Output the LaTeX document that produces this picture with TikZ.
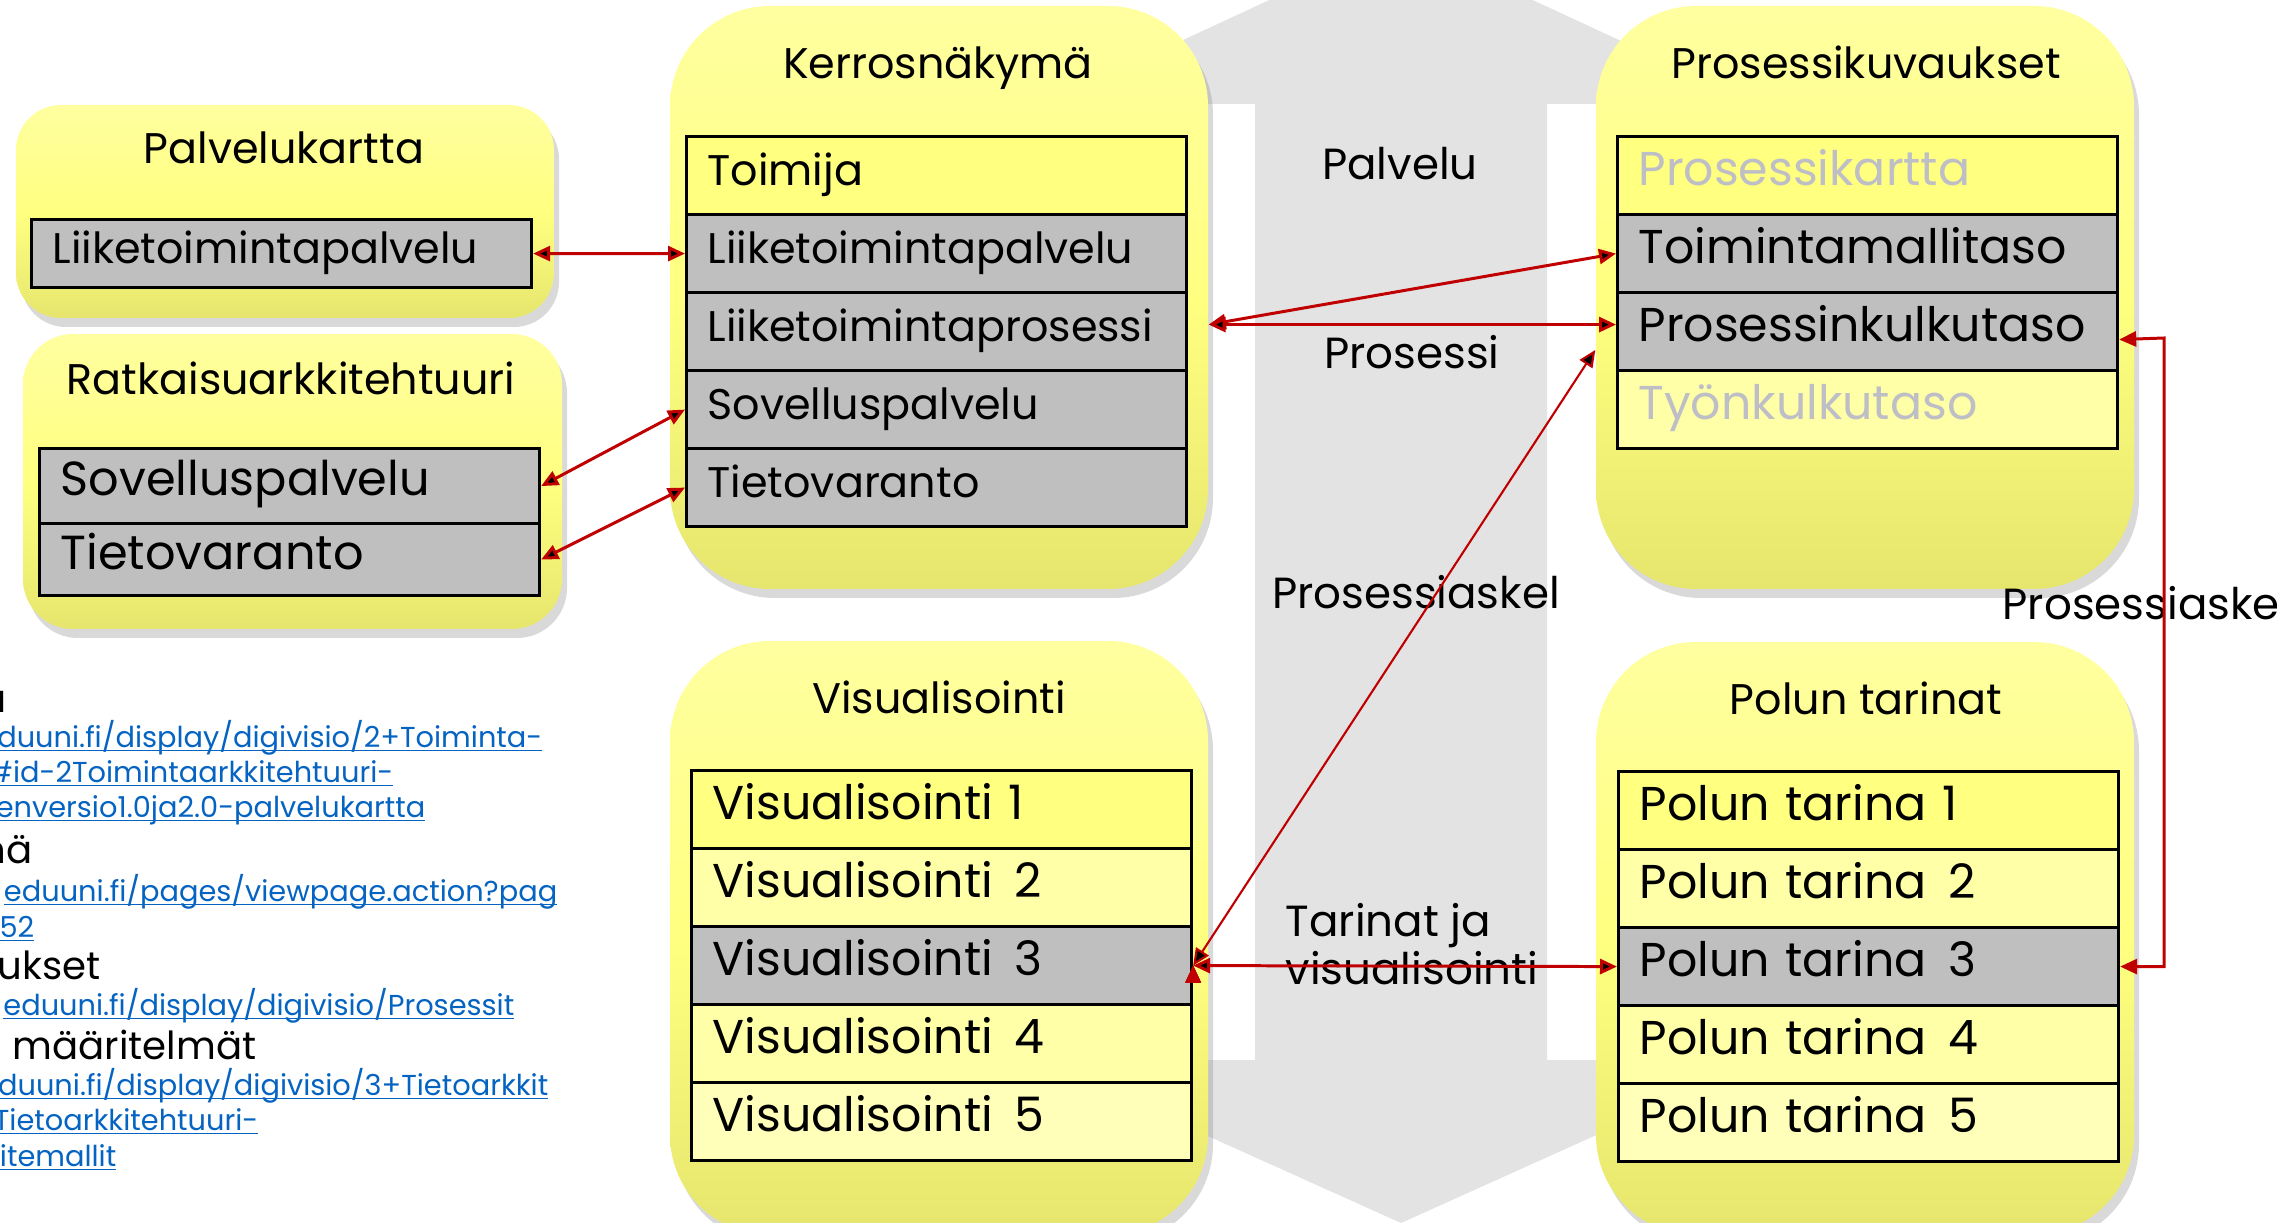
\documentclass[tikz,border=0pt]{standalone}
\usepackage{fontspec}
\setmainfont{Poppins}
\usepackage{tikz}
\usetikzlibrary{arrows.meta,shadows}

\definecolor{bandgrey}{RGB}{227,227,227}
\definecolor{boxtop}{RGB}{255,255,160}
\definecolor{boxmid}{RGB}{255,255,128}
\definecolor{boxbot}{RGB}{230,230,110}
\definecolor{rowyellow}{RGB}{255,255,128}
\definecolor{rowlight}{RGB}{255,255,168}
\definecolor{rowpale}{RGB}{255,255,185}
\definecolor{rowgrey}{RGB}{191,191,191}
\definecolor{fadedtext}{RGB}{190,190,198}
\definecolor{linkblue}{RGB}{5,99,193}
\definecolor{arrowred}{RGB}{192,0,0}

\newcommand{\ulink}[1]{\setbox0\hbox{#1}\rlap{\rule[-0.15em]{\wd0}{0.06em}}\box0}
\newcommand{\gap}{~\hspace{0.13em}}

\tikzset{
  panel/.style={shape=rectangle,rounded corners=10mm,top color=boxtop,bottom color=boxbot,middle color=boxmid,
    drop shadow={shadow xshift=0.5mm,shadow yshift=-0.9mm,opacity=0.3}},
  row/.style={shape=rectangle,draw,line width=0.9pt,anchor=north west,inner xsep=2.1mm,inner ysep=0pt,
    text width=45.8mm,text height=0.7em,text depth=0.15em},
  rowsmall/.style={font=\fontsize{12.2}{14}\selectfont},
  rowmid/.style={font=\fontsize{13.6}{16}\selectfont},
  rowbig/.style={font=\fontsize{13.5}{16}\selectfont},
  title/.style={inner sep=0pt,text height=0.7em,text depth=0pt,font=\fontsize{12.2}{14}\selectfont},
  linklabel/.style={inner sep=0pt,text height=0.7em,text depth=0pt,font=\fontsize{12.4}{13.7}\selectfont},
  link/.style={draw=arrowred,line width=0.85pt,>={Triangle[length=1.7mm,width=1.5mm]}},
  note/.style={anchor=base east,inner sep=0pt,font=\fontsize{11}{13}\selectfont},
  url/.style={anchor=base east,inner sep=0pt,text=linkblue,font=\fontsize{8.2}{10}\selectfont}
}

\begin{document}
\begin{tikzpicture}[x=0.1mm,y=-0.1mm]
\useasboundingbox (0,0) rectangle (2277,1223);
\clip (0,0) rectangle (2277,1223);

\fill[bandgrey] (1401,-61) -- (1757,104) -- (1547,104) -- (1547,1060) -- (1763,1060) -- (1401,1223)
  -- (1039,1060) -- (1255,1060) -- (1255,104) -- (1045,104) -- cycle;

\node(pp) at (285,211.5)[panel,rounded corners=4.5mm,minimum width=53.8mm,minimum height=21.3mm]{};
\node(rs) at (292.5,481.5)[panel,rounded corners=5mm,minimum width=53.9mm,minimum height=29.5mm]{};
\node(kn) at (939,297.5)[panel,minimum width=53.8mm,minimum height=58.3mm]{};
\node(pk) at (1865,297.5)[panel,minimum width=53.8mm,minimum height=58.3mm]{};
\node(vs) at (939,938)[panel,minimum width=53.8mm,minimum height=59.4mm]{};
\node(pt) at (1865,938.5)[panel,minimum width=53.8mm,minimum height=59.3mm]{};

\node(pp-title) at (284,151)[title]{Palvelukartta};
\node(rs-title) at (291,382)[title]{Ratkaisuarkkitehtuuri};
\node(kn-title) at (938,66)[title]{Kerrosnäkymä};
\node(pk-title) at (1866,66)[title]{Prosessikuvaukset};
\node(vs-title) at (939,701)[title]{Visualisointi};
\node(pt-title) at (1866,702)[title]{Polun tarinat};

\node(pp1) at (30,218)[row,rowsmall,fill=rowgrey,minimum height=6.8mm]{Liiketoimintapalvelu};

\node(rs1) at (38,447)[row,rowmid,fill=rowgrey,minimum height=7.5mm]{Sovelluspalvelu};
\node(rs2) at (38,522)[row,rowmid,fill=rowgrey,minimum height=7.2mm]{Tietovaranto};

\node(kn1) at (685,135)[row,rowsmall,fill=rowyellow,minimum height=7.8mm]{Toimija};
\node(kn2) at (685,213)[row,rowsmall,fill=rowgrey,minimum height=7.8mm]{Liiketoimintapalvelu};
\node(kn3) at (685,291)[row,rowsmall,fill=rowgrey,minimum height=7.8mm]{Liiketoimintaprosessi};
\node(kn4) at (685,369)[row,rowsmall,fill=rowgrey,minimum height=7.8mm]{Sovelluspalvelu};
\node(kn5) at (685,447)[row,rowsmall,fill=rowgrey,minimum height=7.8mm]{Tietovaranto};

\node(pk1) at (1616,135)[row,rowbig,fill=rowyellow,text=fadedtext,minimum height=7.8mm]{Prosessikartta};
\node(pk2) at (1616,213)[row,rowbig,fill=rowgrey,minimum height=7.8mm]{Toimintamallitaso};
\node(pk3) at (1616,291)[row,rowbig,fill=rowgrey,minimum height=7.8mm]{Prosessinkulkutaso};
\node(pk4) at (1616,369)[row,rowbig,fill=rowlight,text=fadedtext,minimum height=7.8mm]{Työnkulkutaso};

\node(vs1) at (690,769)[row,rowbig,fill=rowyellow,minimum height=7.8mm]{Visualisointi 1};
\node(vs2) at (690,847)[row,rowbig,fill=rowlight,minimum height=7.8mm]{Visualisointi\gap 2};
\node(vs3) at (690,925)[row,rowbig,fill=rowgrey,minimum height=7.8mm]{Visualisointi\gap 3};
\node(vs4) at (690,1003)[row,rowbig,fill=rowlight,minimum height=7.8mm]{Visualisointi\gap 4};
\node(vs5) at (690,1081)[row,rowbig,fill=rowpale,minimum height=7.8mm]{Visualisointi\gap 5};

\node(pt1) at (1617,770)[row,rowbig,fill=rowyellow,minimum height=7.8mm]{Polun tarina 1};
\node(pt2) at (1617,848)[row,rowbig,fill=rowlight,minimum height=7.8mm]{Polun tarina\gap 2};
\node(pt3) at (1617,926)[row,rowbig,fill=rowgrey,minimum height=7.8mm]{Polun tarina\gap 3};
\node(pt4) at (1617,1004)[row,rowbig,fill=rowlight,minimum height=7.8mm]{Polun tarina\gap 4};
\node(pt5) at (1617,1082)[row,rowbig,fill=rowpale,minimum height=7.8mm]{Polun tarina\gap 5};

\node(palvelu) at (1400,167)[linklabel]{Palvelu};
\node(prosessi) at (1412,356)[linklabel]{Prosessi};
\node(askel) at (1416,596)[linklabel]{Prosessiaskel};
\node(tarinat) at (1285,944)[linklabel,text height=,anchor=west,align=left]{Tarinat ja\\visualisointi};
\node(askel-r) at (2002,607)[linklabel,anchor=west]{Prosessiaske};

\node(n1) at (7,712)[note]{a};
\node(u1) at (543,747)[url]{\ulink{duuni.fi/display/digivisio/2+Toiminta-}};
\node(u2) at (394,782)[url]{\ulink{\#id-2Toimintaarkkitehtuuri-}};
\node(u3) at (426,817)[url]{\ulink{enversio1.0ja2.0-palvelukartta}};
\node(n2) at (33,863)[note]{nä};
\node(u4) at (558,901)[url]{\ulink{eduuni.fi/pages/viewpage.action?pag}};
\node(u5) at (35,937)[url]{\ulink{52}};
\node(n3) at (101,979)[note]{ukset};
\node(u6) at (515,1015)[url]{\ulink{eduuni.fi/display/digivisio/Prosessit}};
\node(n4) at (257,1059)[note]{a määritelmät};
\node(u7) at (549,1095)[url]{\ulink{duuni.fi/display/digivisio/3+Tietoarkkit}};
\node(u8) at (259,1130)[url]{\ulink{Tietoarkkitehtuuri-}};
\node(u9) at (117,1166)[url]{\ulink{itemallit}};

\coordinate(pk3-in) at ([yshift=0.7mm]pk3.west);
\coordinate(pk3-out) at ([yshift=-0.8mm]pk3.east);
\coordinate(rbend) at (2164,338);

\path [link,<->]
  (pp1)           edge  (kn2)
  (rs1.east)      edge  (kn4.west)
  (rs2.east)      edge  (kn5.west)
  (kn.east |- pk3-in) edge (pk2.west)
  (kn.east |- pk3-in) edge (pk3-in)
  (vs3.east)      edge  (pt3.west);
\path [link,<->,line width=0.6pt]
  (vs3.east)      edge  (pk.191);
\draw [link,<->] (pk3-out) -- (rbend) |- (pt3.east);

\end{tikzpicture}
\end{document}
